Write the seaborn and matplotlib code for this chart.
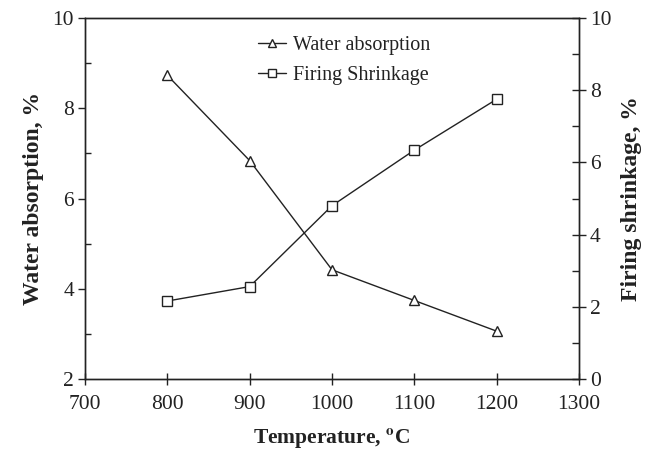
import matplotlib
matplotlib.use("Agg")
import matplotlib.pyplot as plt
import seaborn as sns
import pandas as pd
from matplotlib.ticker import MultipleLocator
from matplotlib.lines import Line2D

temperature = [800, 900, 1000, 1100, 1200]
water_absorption = [8.73, 6.84, 4.42, 3.74, 3.06]
firing_shrinkage = [2.16, 2.56, 4.80, 6.34, 7.75]

sns.set_theme(style="white")
plt.rcParams['font.family'] = ['Liberation Serif', 'DejaVu Serif']
plt.rcParams['mathtext.fontset'] = 'stix'

df = pd.DataFrame({"T": temperature, "WA": water_absorption, "FS": firing_shrinkage})

fig = plt.figure(figsize=(6.49, 4.5), dpi=100)
ax = fig.add_axes([85/649, 1-379/450, (579-85)/649, (379-18)/450])
ax2 = ax.twinx()

col = '#222222'
sns.lineplot(data=df, x="T", y="WA", ax=ax, color=col, lw=1.0, marker='^',
             markersize=7, markerfacecolor='white', markeredgecolor=col, markeredgewidth=1.0)
sns.lineplot(data=df, x="T", y="FS", ax=ax2, color=col, lw=1.0, marker='s',
             markersize=6.5, markerfacecolor='white', markeredgecolor=col, markeredgewidth=1.0)

ax.set_xlim(700, 1300)
ax.set_ylim(2, 10)
ax2.set_ylim(0, 10)
ax.xaxis.set_major_locator(MultipleLocator(100))
ax.yaxis.set_major_locator(MultipleLocator(2))
ax.yaxis.set_minor_locator(MultipleLocator(1))
ax2.yaxis.set_major_locator(MultipleLocator(2))
ax2.yaxis.set_minor_locator(MultipleLocator(1))

for a in (ax, ax2):
    for s in a.spines.values():
        s.set_color(col)
        s.set_linewidth(1.0)

ax.tick_params(axis='x', which='major', direction='inout', length=9, width=1, color=col,
               labelsize=15.5, pad=7, bottom=True, labelcolor=col)
ax.tick_params(axis='y', which='major', direction='out', length=5, width=1, color=col,
               labelsize=15.5, pad=3, left=True, labelcolor=col)
ax.tick_params(axis='y', which='minor', direction='in', length=4, width=1, color=col, left=True)
ax2.tick_params(axis='y', which='major', direction='inout', length=10, width=1, color=col,
                labelsize=15.5, pad=3, right=True, labelcolor=col)
ax2.tick_params(axis='y', which='minor', direction='in', length=5, width=1, color=col, right=True)

ax.set_xlabel(r'Temperature, $^{\mathbf{o}}$C', fontsize=15.5, fontweight='bold', color=col, labelpad=9)
ax.set_ylabel('Water absorption, %', fontsize=17, fontweight='bold', color=col, labelpad=6)
ax2.set_ylabel('Firing shrinkage, %', fontsize=17, fontweight='bold', color=col, labelpad=7)

handles = [
    Line2D([], [], color=col, lw=1, marker='^', markersize=6, markerfacecolor='white', markeredgecolor=col),
    Line2D([], [], color=col, lw=1, marker='s', markersize=5.5, markerfacecolor='white', markeredgecolor=col),
]
ax.legend(handles, ['Water absorption', 'Firing Shrinkage'], loc='upper left',
          bbox_to_anchor=(155/494, 1.0), frameon=False, fontsize=14.5, handlelength=1.4,
          handletextpad=0.35, labelspacing=0.55, labelcolor=col, borderaxespad=0.5)

fig.savefig('out.png', dpi=100)
